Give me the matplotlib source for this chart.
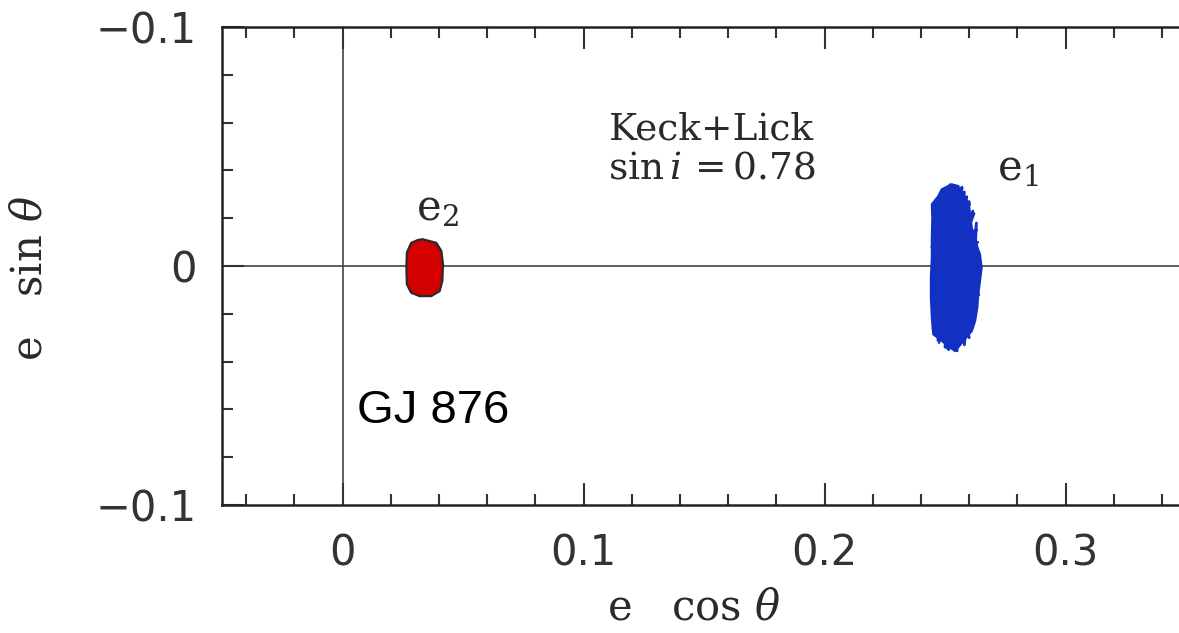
import matplotlib
matplotlib.use("Agg")
import matplotlib.pyplot as plt
from matplotlib.ticker import MultipleLocator, FixedLocator

# 数据：轨道偏心率矢量的演化（从图上读出的轨迹点）
e1X = [0.2500, 0.2480, 0.2540, 0.2510, 0.2580, 0.2540, 0.2600, 0.2580, 0.2630, 0.2610,
       0.2645, 0.2450, 0.2640, 0.2445, 0.2630, 0.2443, 0.2620, 0.2450, 0.2600, 0.2470,
       0.2560, 0.2500, 0.2530, 0.2550, 0.2490, 0.2600, 0.2460, 0.2625, 0.2447, 0.2640,
       0.2445, 0.2635, 0.2455, 0.2615, 0.2475, 0.2590, 0.2515, 0.2570, 0.2520, 0.2545]
e1Y = [0.0320, -0.0300, 0.0338, -0.0345, 0.0310, -0.0352, 0.0270, -0.0330, 0.0180, -0.0270,
       0.0020, 0.0240, -0.0120, 0.0080, 0.0150, -0.0100, 0.0220, -0.0260, 0.0260, -0.0310,
       0.0325, -0.0340, 0.0340, -0.0355, 0.0300, -0.0300, 0.0200, -0.0200, 0.0120, -0.0040,
       -0.0050, 0.0100, -0.0200, 0.0230, -0.0320, 0.0290, -0.0350, 0.0330, -0.0290, 0.0310]

# e1 轨迹的外包络
e1EdgeX = [0.2521, 0.2555, 0.2569, 0.2597, 0.2604, 0.2611, 0.2625, 0.2645, 0.2652, 0.2645,
           0.2638, 0.2634, 0.2625, 0.2611, 0.2576, 0.2542, 0.2521, 0.2479, 0.2451, 0.2445,
           0.2441, 0.2441, 0.2445, 0.2445, 0.2447, 0.2445, 0.2472, 0.2486, 0.2514]
e1EdgeY = [0.0342, 0.0335, 0.0300, 0.0265, 0.0216, 0.0160, 0.0105, 0.0049, -0.0007, -0.0063,
           -0.0118, -0.0174, -0.0230, -0.0272, -0.0314, -0.0356, -0.0342, -0.0307, -0.0286, -0.0216,
           -0.0133, -0.0049, 0.0035, 0.0118, 0.0202, 0.0258, 0.0293, 0.0321, 0.0335]

# e2 轨迹的外包络
e2EdgeX = [0.0333, 0.0389, 0.0410, 0.0417, 0.0414, 0.0403, 0.0368, 0.0320, 0.0285, 0.0267,
           0.0265, 0.0267, 0.0285, 0.0313]
e2EdgeY = [0.0112, 0.0097, 0.0063, 0.0007, -0.0063, -0.0105, -0.0126, -0.0126, -0.0112, -0.0077,
           -0.0007, 0.0056, 0.0097, 0.0109]

xMajorTicks = [0.0, 0.1, 0.2, 0.3]
xTickLabels = ['0', '0.1', '0.2', '0.3']
yMajorTicks = [-0.1, 0.0, 0.1]
yTickLabels = ['\u22120.1', '0', '\u22120.1']

blueColor = '#1231c2'
redColor = '#d40000'
textGray = '#2a2a2a'

plt.rcParams['mathtext.fontset'] = 'dejavuserif'

fig = plt.figure(figsize=(11.79, 6.33), dpi=100)
ax = fig.add_axes([0.1883, 0.2022, 0.8177, 0.7551])
ax.set_xlim(-0.05, 0.35)
ax.set_ylim(-0.1, 0.1)

# 参考线
ax.axvline(0, color='#444444', lw=1.2, zorder=1)
ax.axhline(0, color='#444444', lw=1.2, zorder=1)

# e2（红色）
ax.fill(e2EdgeX, e2EdgeY, facecolor=redColor, edgecolor='#2a2a2a', lw=1.6,
        joinstyle='round', zorder=3)

# e1（蓝色）
ax.fill(e1EdgeX, e1EdgeY, facecolor=blueColor, edgecolor=blueColor, lw=1.5,
        joinstyle='round', zorder=3)
ax.plot(e1X, e1Y, color=blueColor, lw=2.0, solid_joinstyle='round', zorder=4)

# 坐标轴样式
for side in ['left', 'top', 'bottom']:
    ax.spines[side].set_linewidth(1.8)
    ax.spines[side].set_color('#222222')
ax.spines['right'].set_visible(False)

ax.xaxis.set_major_locator(FixedLocator(xMajorTicks))
ax.xaxis.set_minor_locator(MultipleLocator(0.02))
ax.yaxis.set_major_locator(FixedLocator(yMajorTicks))
ax.yaxis.set_minor_locator(MultipleLocator(0.02))
ax.set_xticklabels(xTickLabels)
ax.set_yticklabels(yTickLabels)

ax.tick_params(which='both', direction='in', top=True, right=False,
               color='#333333', labelcolor='#333333', labelsize=30)
ax.tick_params(which='major', length=16, width=1.5)
ax.tick_params(which='minor', length=8, width=1.5)
ax.tick_params(axis='x', which='major', pad=20)
ax.tick_params(axis='y', which='major', pad=18)

ax.set_xlabel('e   cos $\\theta$', fontsize=30, color=textGray, family='DejaVu Serif')
ax.xaxis.set_label_coords(0.489, -0.17)
ax.set_ylabel('e   sin $\\theta$', fontsize=30, color=textGray, family='DejaVu Serif')
ax.yaxis.set_label_coords(-0.178, 0.475)

# 注释文字
ax.text(0.1532, 0.0573, 'Keck+Lick', fontsize=27, family='DejaVu Serif',
        color=textGray, ha='center', va='center')
ax.text(0.1532, 0.0406, r'$\mathregular{sin}\,i\,\mathregular{=0.78}$', fontsize=27,
        family='DejaVu Serif', color=textGray, ha='center', va='center')
ax.text(0.2715, 0.0410, r'$\mathregular{e_1}$', fontsize=30, family='DejaVu Serif',
        color=textGray, ha='left', va='center')
ax.text(0.0305, 0.0240, r'$\mathregular{e_2}$', fontsize=30, family='DejaVu Serif',
        color=textGray, ha='left', va='center')
ax.text(0.0062, -0.0607, 'GJ 876', fontsize=34, family='Liberation Sans',
        color='black', ha='left', va='center')

fig.savefig('out.png', dpi=100)
